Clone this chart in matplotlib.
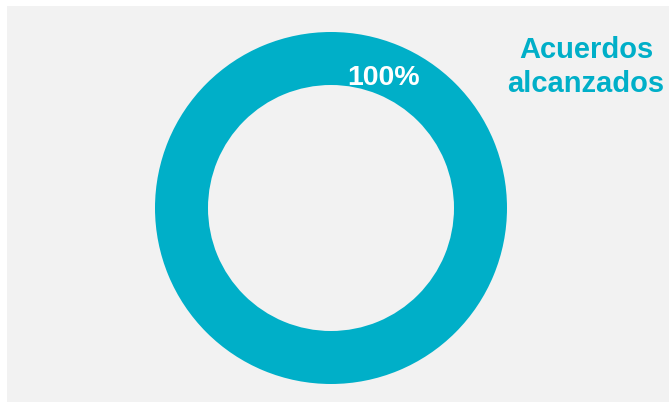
import numpy as np
import matplotlib
matplotlib.use('Agg')
import matplotlib.pyplot as plt
from matplotlib.patches import Rectangle

# Chart data
categories = ['Acuerdos alcanzados']
values = [100]
title = 'Acuerdos\nalcanzados'

TEAL = '#00AFC8'
PANEL = '#F2F2F2'

plt.rcParams['font.family'] = ['Liberation Sans', 'DejaVu Sans']

fig = plt.figure(figsize=(6.69, 4.07), dpi=100)
fig.patch.set_facecolor('white')
ax = fig.add_axes([0, 0, 1, 1])

# gray panel behind the chart
ax.add_patch(Rectangle((7, 6), 662, 396, facecolor=PANEL, edgecolor='none', zorder=0))

# donut (pixel-like coordinates, y pointing down)
cx, cy = 331, 208
r_out, ring = 176, 53
wedges, _ = ax.pie(values, radius=r_out, center=(cx, cy), colors=[TEAL],
                   startangle=90, counterclock=False,
                   wedgeprops=dict(width=ring, edgecolor='none'))

# percentage label on the ring
total = sum(values)
pct = values[0] / total * 100
ang = np.deg2rad(22)
r_mid = r_out - ring / 2 - 9
ax.text(cx + r_mid * np.sin(ang), cy - r_mid * np.cos(ang), f'{pct:.0f}%',
        color='white', fontsize=20.5, fontweight='bold', ha='center', va='center')

ax.text(586, 67, title, color=TEAL, fontsize=21, fontweight='bold',
        ha='center', va='center', linespacing=1.25)

ax.set_xlim(0, 669)
ax.set_ylim(407, 0)
ax.set_aspect('equal')
ax.axis('off')

fig.savefig('out.png', dpi=100, facecolor=fig.get_facecolor())
